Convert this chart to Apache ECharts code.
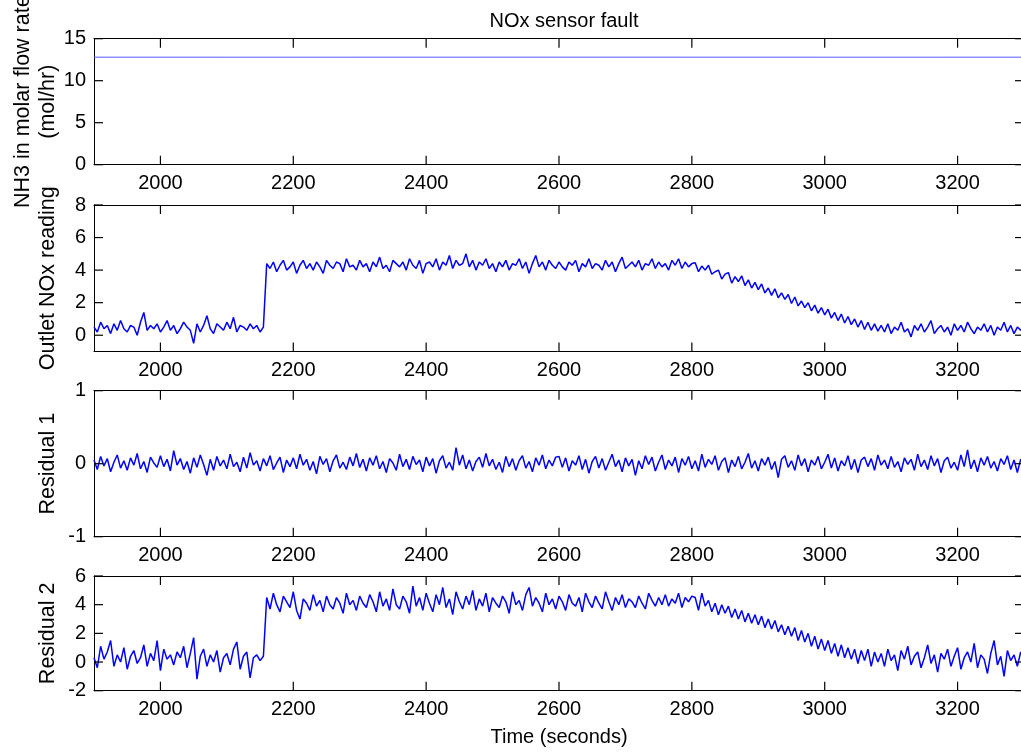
<!DOCTYPE html>
<html><head><meta charset="utf-8">
<script src="https://cdn.jsdelivr.net/npm/echarts@6/dist/echarts.min.js"></script>
<style>html,body{margin:0;padding:0;background:#fff}#c{width:1021px;height:754px}</style>
</head><body><div id="c"></div>
<script>
// ---------- data ----------
const xRange = [1900, 3300];
const xTicks = [2000, 2200, 2400, 2600, 2800, 3000, 3200];
const nh3Time = [1900, 3300];
const nh3Flow = [12.8, 12.8];
const sampleStart = 1900, sampleStep = 5;   // time of first sample, seconds between samples

const outletNox = [
  0.5,0.2,0.8,0.4,0.6,0.1,0.7,0.3,0.9,0.4, 0.2,0.6,0.5,0.0,0.8,1.4,0.3,0.6,0.4,0.7,
  0.2,0.5,0.9,0.3,0.6,0.1,0.4,0.8,0.5,0.3, -0.5,0.7,0.2,0.6,1.2,0.4,0.1,0.7,0.5,0.3,
  0.8,0.4,1.1,0.2,0.6,0.5,0.3,0.7,0.4,0.6, 0.2,0.5,
  4.4,4.1,4.5,3.9,4.3,4.6,4.0,4.2,4.5,3.8, 4.3,4.6,4.1,4.4,4.0,4.5,4.2,3.8,4.6,4.3,
  4.1,4.5,4.4,3.9,4.7,4.2,4.3,4.0,4.6,4.2, 4.4,3.9,4.5,4.2,4.8,4.1,4.3,3.9,4.6,4.4,
  4.2,4.5,4.0,4.7,4.3,4.1,4.6,3.8,4.4,4.5, 4.2,4.7,4.0,4.5,4.3,4.9,4.1,4.6,4.3,4.4,
  5.0,4.2,4.6,4.0,4.5,4.3,4.7,4.1,4.4,3.9, 4.5,4.2,4.6,4.0,4.4,4.3,4.7,4.1,4.5,3.8,
  4.4,4.9,4.2,4.5,4.0,4.6,4.3,4.1,4.5,4.2, 4.0,4.5,4.3,4.6,3.9,4.4,4.2,4.7,4.1,4.4,
  4.3,4.0,4.6,4.2,4.5,3.9,4.4,4.8,4.1,4.3, 4.5,4.2,4.6,4.0,4.4,4.3,4.7,4.1,4.5,4.2,
  4.4,4.0,4.6,4.3,4.7,4.1,4.5,4.2,4.4,
  4.45,3.9,4.25,4.0,4.3,3.75,3.9,4.0,3.45,3.75, 3.85,3.2,3.6,3.3,3.65,3.05,3.4,2.9,3.25,2.8,
  3.15,2.6,2.9,2.45,2.85,2.3,2.6,2.2,2.5,1.95, 2.35,1.8,2.1,1.7,2.0,1.5,1.85,1.35,1.7,1.25,
  1.6,1.05,1.4,0.9,1.3,0.75,1.15,0.65,1.0,0.5, 0.9,0.35,0.8,0.3,0.7,0.25,
  0.6,0.2,0.7,0.1,0.5,0.3,0.8,0.2,0.4,-0.1, 0.6,0.3,0.7,0.2,0.5,0.9,0.1,0.4,0.6,0.2,
  0.5,0.0,0.7,0.3,0.6,0.2,0.8,0.4,0.1,0.5, 0.3,0.7,0.2,0.6,0.0,0.5,0.3,0.8,0.2,0.6,
  0.1,0.5,0.3,0.6
];

const residual1 = [
  0.05,-0.08,0.10,-0.03,0.07,-0.11,0.02,0.12,-0.06,0.04,
  -0.09,0.08,-0.02,0.14,-0.07,0.03,-0.12,0.09,0.01,-0.05,
  0.11,-0.04,0.06,-0.10,0.18,-0.02,0.07,-0.08,0.03,-0.13,
  0.08,-0.05,0.12,-0.01,-0.16,0.06,-0.09,0.10,-0.03,0.05,
  -0.07,0.13,-0.04,0.02,-0.11,0.09,-0.06,0.15,-0.02,0.04,
  -0.10,0.07,-0.03,0.11,-0.08,0.01,0.09,-0.12,0.05,-0.04,
  0.08,-0.07,0.13,-0.02,0.06,-0.09,0.03,-0.14,0.10,-0.01,
  0.07,-0.11,0.04,0.12,-0.06,0.02,-0.08,0.09,-0.03,0.14,
  -0.05,0.06,-0.10,0.08,-0.02,0.11,-0.07,0.03,-0.12,0.07,
  0.01,-0.09,0.13,-0.04,0.06,-0.08,0.10,-0.01,0.05,-0.11,
  0.09,-0.03,0.07,-0.13,0.04,0.11,-0.06,0.02,-0.09,0.22,
  -0.02,0.12,-0.07,0.05,-0.10,0.03,0.09,-0.05,0.14,-0.03,
  0.06,-0.08,0.02,-0.12,0.10,-0.04,0.07,-0.09,0.04,0.11,
  -0.06,0.03,-0.11,0.08,-0.02,0.12,-0.07,0.05,-0.03,0.09,
  0.10,-0.05,0.08,-0.10,0.04,-0.02,0.11,-0.08,0.06,-0.13,
  0.03,0.10,-0.06,0.07,-0.09,0.02,0.13,-0.04,0.05,-0.11,
  0.08,-0.03,0.06,-0.16,0.04,-0.07,0.11,-0.01,0.09,-0.10,
  0.02,0.12,-0.08,0.05,-0.03,0.09,-0.12,0.07,-0.02,0.10,
  -0.07,0.04,-0.10,0.13,-0.05,0.06,-0.01,0.11,-0.09,0.03,
  0.08,-0.12,0.05,-0.04,0.10,-0.07,0.02,0.14,-0.06,0.04,
  -0.10,0.07,-0.02,0.09,-0.08,0.03,-0.19,0.06,0.11,-0.05,
  0.04,-0.09,0.12,-0.03,0.07,-0.11,0.05,-0.02,0.10,-0.07,
  0.02,0.13,-0.06,0.08,-0.10,0.04,-0.03,0.11,-0.08,0.06,
  -0.12,0.05,0.09,-0.04,0.07,-0.09,0.12,-0.02,0.05,-0.07,
  0.10,-0.05,0.03,-0.11,0.08,-0.01,0.06,-0.09,0.13,-0.04,
  0.05,-0.08,0.11,-0.03,0.07,-0.12,0.04,0.09,-0.06,0.02,
  -0.09,0.12,-0.04,0.19,-0.07,0.05,-0.11,0.08,-0.02,0.10,
  -0.06,0.03,-0.10,0.07,-0.01,0.11,-0.08,0.05,-0.12,0.06,
  0.02
];

const residual2 = [
  0.3,-0.4,1.1,0.2,0.7,1.5,-0.3,0.5,0.0,1.0, -0.5,0.4,0.8,-0.1,0.3,1.2,-0.3,0.6,0.1,1.5,
  -0.6,0.9,0.2,0.5,-0.2,0.7,0.3,1.1,-0.4,0.6, 1.7,-1.2,0.4,0.9,-0.3,0.5,0.0,0.8,-0.7,0.3,
  0.6,-0.2,0.9,1.4,-0.5,0.4,0.7,-1.1,0.3,0.5, 0.1,0.4,
  4.5,3.7,4.8,4.0,3.5,4.6,4.2,3.8,4.9,3.6, 3.0,4.4,4.1,3.6,4.7,3.9,4.3,3.5,4.6,4.0,
  3.7,4.5,4.1,3.4,4.8,4.0,4.3,3.6,4.6,4.1, 3.8,4.7,4.2,3.5,4.9,3.9,4.4,3.6,5.1,4.0,
  3.7,4.6,4.2,3.4,5.3,3.9,4.5,3.6,4.8,4.1, 3.5,4.7,4.0,5.2,3.8,4.4,3.3,4.9,4.2,3.7,
  4.6,4.0,5.0,3.6,4.4,3.9,4.8,3.5,4.5,4.1, 3.8,4.6,4.2,3.4,4.9,4.0,4.3,3.6,4.7,5.2,
  3.9,4.5,4.1,3.5,4.8,4.0,4.4,3.7,4.6,4.2, 3.6,4.7,4.1,3.9,4.5,3.5,4.8,4.2,3.8,4.6,
  4.1,3.7,4.9,4.2,3.6,4.5,4.0,4.7,3.8,4.4, 4.2,3.8,4.6,4.1,3.7,4.8,4.3,3.9,4.5,4.0,
  4.7,3.9,4.4,4.1,4.8,3.8,4.5,4.2,4.6,
  4.5,3.6,4.8,3.9,4.3,3.5,4.1,3.3,4.0,3.4, 3.9,3.1,3.7,3.0,3.6,2.8,3.4,2.7,3.3,2.6,
  3.2,2.4,3.0,2.3,2.9,2.1,2.6,1.9,2.5,1.8, 2.4,1.5,2.2,1.4,2.0,1.1,1.8,0.9,1.6,0.8,
  1.5,0.6,1.3,0.4,1.2,0.3,1.0,0.2,0.9,-0.1, 0.8,0.1,0.9,-0.3,0.7,0.0,
  0.6,-0.3,0.9,0.1,0.5,-0.6,0.8,0.2,1.1,-0.2, 0.4,0.7,-0.4,0.3,1.2,-0.1,0.5,-0.7,0.6,0.2,
  0.9,-0.3,0.4,1.0,-0.5,0.3,0.7,0.0,1.3,-0.4, 0.5,0.2,-0.8,0.6,1.5,-0.2,0.4,-1.0,0.8,0.1,
  0.5,-0.3,0.7,0.2
];

const yRanges = [[0, 15], [-1, 8], [-1, 1], [-2, 6]];
const yTickSets = [[0, 5, 10, 15], [0, 2, 4, 6, 8], [-1, 0, 1], [-2, 0, 2, 4, 6]];
const yNames = ['NH3 in molar flow rate\n(mol/hr)', 'Outlet NOx reading', 'Residual 1', 'Residual 2'];
const titleText = 'NOx sensor fault';
const xName = 'Time (seconds)';

// ---------- build ----------
const sampleTimes = outletNox.map((_, i) => sampleStart + i * sampleStep);
const pairs = (xs, ys) => ys.map((v, i) => [xs[i], v]);
const seriesData = [
  pairs(nh3Time, nh3Flow),
  pairs(sampleTimes, outletNox),
  pairs(sampleTimes, residual1),
  pairs(sampleTimes, residual2)
];

const FONT = '"Liberation Sans", Arial, Helvetica, sans-serif';
const FS = 20;
const TICK = 9;
const gridBoxes = [
  { top: 38.7, height: 126 },
  { top: 205, height: 146.5 },
  { top: 390.7, height: 146 },
  { top: 576, height: 114.7 }
];

// a scatter series of thin rectangles standing in for inward tick marks
function tickSeries(i, data, size, offset) {
  return {
    type: 'scatter', xAxisIndex: 2 * i, yAxisIndex: 2 * i,
    data, symbol: 'rect', symbolSize: size, symbolOffset: offset,
    itemStyle: { color: '#000', opacity: 1 }, clip: false, silent: true, z: 20,
    emphasis: { disabled: true }, animation: false
  };
}

const grid = [], xAxis = [], yAxis = [], series = [];
gridBoxes.forEach((g, i) => {
  grid.push({ left: 94, width: 930, top: g.top, height: g.height, outerBoundsMode: 'none' });
  ['bottom', 'top'].forEach(pos => {
    const ax = {
      gridIndex: i, type: 'value', min: xRange[0], max: xRange[1], splitNumber: 7, position: pos,
      axisLine: { show: true, onZero: false, lineStyle: { color: '#000', width: 1 } },
      axisTick: { show: false },
      splitLine: { show: false },
      axisLabel: { show: false }
    };
    if (pos === 'bottom') {
      ax.axisLabel = {
        show: true, color: '#000', fontSize: FS, fontFamily: FONT, margin: 9,
        customValues: xTicks, formatter: v => String(v)
      };
      if (i === 3) {
        ax.name = xName;
        ax.nameLocation = 'middle';
        ax.nameGap = 37;
        ax.nameMoveOverlap = false;
        ax.nameTextStyle = { color: '#000', fontSize: FS, fontFamily: FONT };
      }
    }
    xAxis.push(ax);
  });
  ['left', 'right'].forEach(pos => {
    const ax = {
      gridIndex: i, type: 'value', min: yRanges[i][0], max: yRanges[i][1], position: pos,
      axisLine: { show: true, onZero: false, lineStyle: { color: '#000', width: 1 } },
      axisTick: { show: false },
      splitLine: { show: false },
      axisLabel: { show: false }
    };
    if (pos === 'left') {
      ax.axisLabel = {
        show: true, color: '#000', fontSize: FS, fontFamily: FONT, margin: 8,
        customValues: yTickSets[i], formatter: v => String(v)
      };
      ax.name = yNames[i];
      ax.nameLocation = 'middle';
      ax.nameRotate = 90;
      ax.nameGap = 33;
      ax.nameMoveOverlap = false;
      ax.nameTextStyle = { color: '#000', fontSize: 21.5, fontFamily: FONT, lineHeight: 25 };
    }
    yAxis.push(ax);
  });
  series.push({
    type: 'line', xAxisIndex: 2 * i, yAxisIndex: 2 * i,
    data: seriesData[i], showSymbol: false, symbol: 'none', clip: true,
    lineStyle: { color: i === 0 ? '#5a5aff' : '#0000ff', width: i === 0 ? 1 : 1.5 },
    emphasis: { disabled: true }, silent: true
  });
  const yLo = yRanges[i][0], yHi = yRanges[i][1];
  series.push(tickSeries(i, xTicks.map(v => [v, yLo]), [1.2, TICK], [0, '-50%']));
  series.push(tickSeries(i, xTicks.map(v => [v, yHi]), [1.2, TICK], [0, '50%']));
  series.push(tickSeries(i, yTickSets[i].map(v => [xRange[0], v]), [TICK, 1.2], ['50%', 0]));
  series.push(tickSeries(i, yTickSets[i].map(v => [xRange[1], v]), [TICK, 1.2], ['-50%', 0]));
});

const chart = echarts.init(document.getElementById('c'), null, { renderer: 'canvas' });
chart.setOption({
  animation: false,
  backgroundColor: '#fff',
  title: {
    text: titleText, left: 559, top: 6, textAlign: 'center',
    textStyle: { color: '#000', fontSize: FS, fontWeight: 'normal', fontFamily: FONT }
  },
  grid, xAxis, yAxis, series
});
</script>
</body></html>
